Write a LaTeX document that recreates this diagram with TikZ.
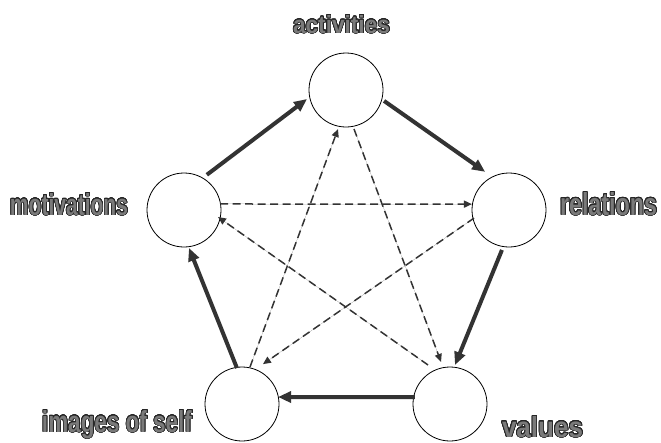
\documentclass[tikz,border=0pt]{standalone}
\usepackage{fontspec}
\setmainfont{Liberation Sans}
\usepackage{graphicx}
\usepackage{contour}
\contourlength{0.9pt}
\contournumber{32}
\usetikzlibrary{arrows.meta,calc}
\definecolor{ink}{HTML}{333333}
\definecolor{labfill}{HTML}{7A7A7A}
\definecolor{labline}{HTML}{262626}
\newcommand{\mylab}[3]{\resizebox{#1}{#2}{\fontsize{30}{30}\selectfont\bfseries\color{labfill}\contour{labline}{#3}}}
\tikzset{
  ring/.style={circle, draw=black, line width=0.8pt, fill=white, minimum size=74pt, inner sep=0pt},
  boldarrow/.style={draw=ink, line width=4pt, -{Triangle[length=13pt,width=11pt]}, fill=ink},
  dasharrow/.style={draw=ink, line width=1.5pt, dash pattern=on 8pt off 4.5pt, -{Triangle[length=8pt,width=7pt]}, fill=ink},
  lab/.style={inner sep=0pt, anchor=base}
}
\begin{document}
\begin{tikzpicture}[x=1pt,y=-1pt]
\useasboundingbox (0,0) rectangle (661,442);
\node[ring] (a) at (346,90) {};
\node[ring] (m) at (184,210) {};
\node[ring] (r) at (509,210) {};
\node[ring] (i) at (242,404) {};
\node[ring] (v) at (450,404) {};
% bold cycle
\draw[boldarrow] ($(m)+(-57:42)$) -- ($(a)+(167:40)$);
\draw[boldarrow] ($(a)+(16:39.6)$) -- ($(r)+(-122:45)$);
\draw[boldarrow] ($(r)+(100:40.6)$) -- ($(v)+(-82.7:39.3)$);
\draw[boldarrow] ($(v)+(191:35.7)$) -- ($(i)+(-11:36.7)$);
\draw[boldarrow] ($(i)+(-98:36.3)$) -- ($(m)+(82.5:38.3)$);
% dashed star
\draw[dasharrow] ($(m)+(-9.5:36.5)$) -- ($(r)+(-171:37.5)$);
\draw[dasharrow] ($(v)+(-119.4:44.8)$) -- ($(m)+(11.6:34.7)$);
\draw[dasharrow] ($(r)+(167:35.9)$) -- ($(i)+(-62.3:45)$);
\draw[dasharrow] ($(i)+(-77.8:37.9)$) -- ($(a)+(101.6:39.8)$);
\draw[dasharrow] ($(a)+(78.4:39.8)$) -- ($(v)+(-102:43)$);
% labels
\node[lab] (ta) at (341.5,33) {\mylab{97pt}{18pt}{activities}};
\node[lab] (tm) at (69,215) {\mylab{118pt}{22pt}{motivations}};
\node[lab] (tr) at (608.5,215) {\mylab{97pt}{23pt}{relations}};
\node[lab] (ti) at (117,432) {\mylab{150pt}{22pt}{images of self}};
\node[lab] (tv) at (542.5,437) {\mylab{81pt}{21pt}{values}};
\end{tikzpicture}
\end{document}
